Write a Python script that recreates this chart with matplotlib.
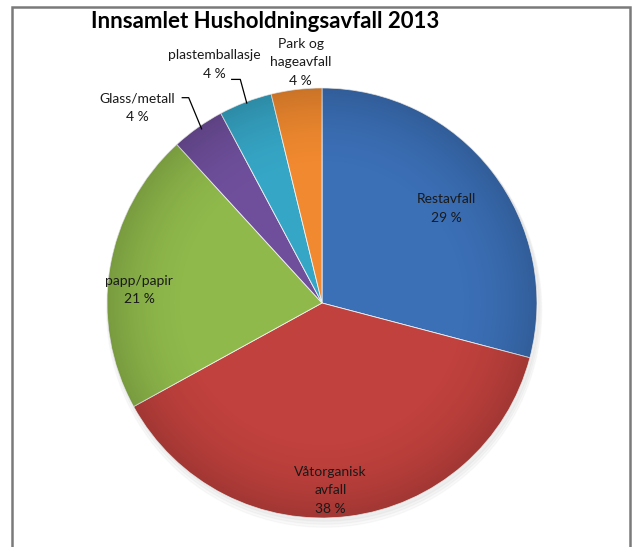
import numpy as np
import matplotlib
matplotlib.use("Agg")
import matplotlib.pyplot as plt
from matplotlib.patches import Rectangle, Circle

plt.rcParams['font.family'] = ['Lato', 'DejaVu Sans']

# data (clockwise from 12 o'clock)
categories = ["Restavfall", "Våtorganisk\navfall", "papp/papir",
              "Glass/metall", "plastemballasje", "Park og\nhageavfall"]
shares = [29.1, 37.9, 21.2, 4.0, 4.0, 3.8]
shown_pct = ["29 %", "38 %", "21 %", "4 %", "4 %", "4 %"]
title = "Innsamlet Husholdningsavfall 2013"

colors = ["#3b6fb6", "#c0413d", "#8fb94b", "#6f4f9c", "#36a6c6", "#f0892f"]

# label centres in axes data units (pie radius = 1)
label_pos = [(0.58, 0.44), (0.04, -0.87), (-0.85, 0.06),
             (-0.86, 0.91), (-0.50, 1.11), (-0.10, 1.12)]
# leader lines for the two small slices
leaders = {3: [(-0.65, 0.955), (-0.62, 0.955), (-0.56, 0.81)],
           4: [(-0.42, 1.04), (-0.38, 1.04), (-0.35, 0.93)]}

W, H = 634, 547
fig = plt.figure(figsize=(W / 100, H / 100), dpi=100)
fig.patch.set_facecolor("white")

# pie centre ~ (322, 303) px, radius ~ 215 px
cx, cy, R = 322, 303, 215
ax = fig.add_axes([(cx - R) / W, (H - cy - R) / H, 2 * R / W, 2 * R / H])
ax.set_xlim(-1, 1)
ax.set_ylim(-1, 1)
ax.set_aspect("equal")
ax.axis("off")

# soft shadow under the pie
for i in range(3):
    ax.add_patch(Circle((0.01, -0.015 - 0.008 * i), 1.0 + 0.006 * i, color="black",
                        alpha=0.025, zorder=0, clip_on=False))

wedges, _ = ax.pie(shares, colors=colors, startangle=90, counterclock=False,
                   radius=1.0, wedgeprops=dict(edgecolor="#f2f2f2", linewidth=0.6))
for w in wedges:
    w.set_zorder(1)

# radial darkening for the shaded look
n = 300
yy, xx = np.mgrid[-1:1:n * 1j, -1:1:n * 1j]
rr = np.sqrt(xx ** 2 + yy ** 2)
shade = np.zeros((n, n, 4))
shade[..., 3] = np.clip((rr - 0.6) / 0.4, 0, 1) ** 2 * 0.16
im = ax.imshow(shade, extent=(-1, 1, -1, 1), origin="lower", zorder=2,
               interpolation="bilinear")
im.set_clip_path(Circle((0, 0), 1.0, transform=ax.transData))
ax.set_xlim(-1, 1)
ax.set_ylim(-1, 1)

for i, (cat, pct) in enumerate(zip(categories, shown_pct)):
    x, y = label_pos[i]
    ax.text(x, y, cat + "\n" + pct, ha="center", va="center", fontsize=10,
            linespacing=1.65, color="#1a1a1a", zorder=5, clip_on=False)

for i, pts in leaders.items():
    xs, ys = zip(*pts)
    ax.plot(xs, ys, color="black", lw=0.9, zorder=5, clip_on=False)

fig.text(265 / W, 1 - 21 / H, title, ha="center", va="center",
         fontsize=16, fontweight="bold")

# chart frame
fig.patches.append(Rectangle((12 / W, -0.05), (630 - 12) / W, 1.05 - 7 / H,
                             transform=fig.transFigure, fill=False,
                             edgecolor="#7a7a7a", linewidth=1.8))

fig.savefig("out.png", dpi=100)
